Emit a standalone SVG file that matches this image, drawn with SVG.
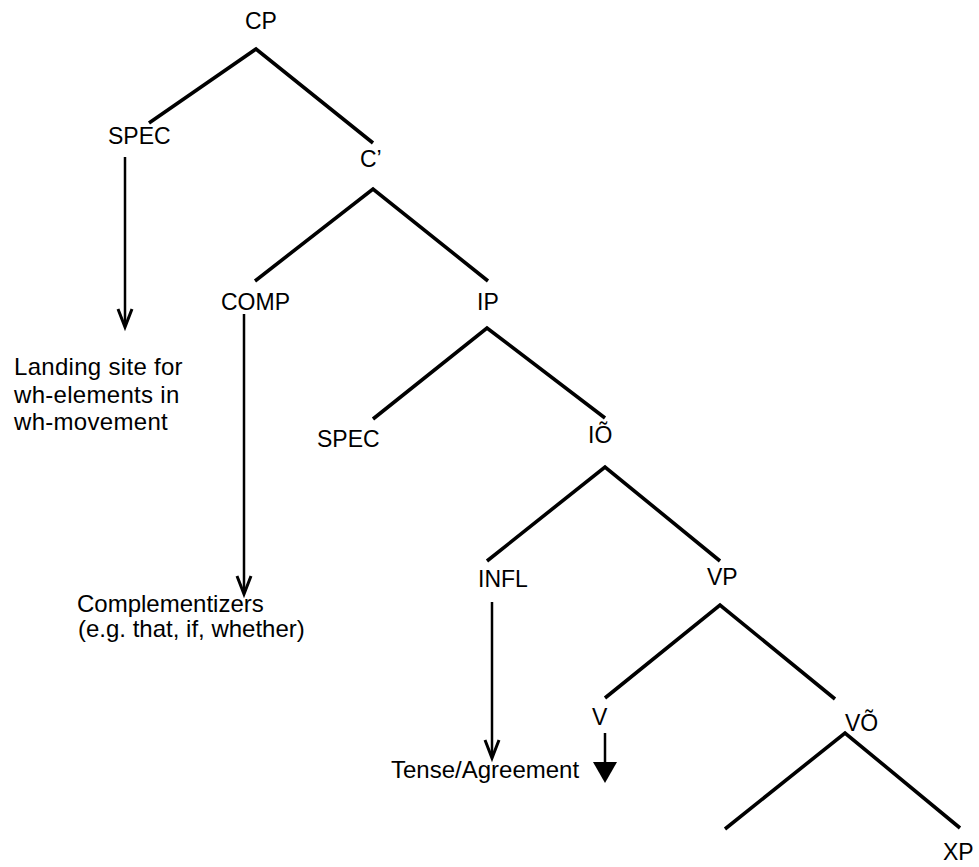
<svg xmlns="http://www.w3.org/2000/svg" width="979" height="867" viewBox="0 0 979 867">
  <style>
    text { font-family: "Liberation Sans", Arial, Helvetica, sans-serif; font-size: 23px; fill: #000; }
    .note { font-size: 24px; }
    .branch { stroke: #000; stroke-width: 3.6; fill: none; stroke-linecap: butt; }
    .pointer { stroke: #000; stroke-width: 2.5; fill: none; }
    .head { stroke: #000; stroke-width: 3; fill: none; }
  </style>

  <!-- tree branches and pointers -->
  <g id="connectors">
    <path class="branch" d="M149,123 L256,49 L373,143"/>
    <path class="branch" d="M255,281 L373,189 L488,281"/>
    <path class="branch" d="M373,419 L487,328 L605,418"/>
    <path class="branch" d="M487,561 L605,467 L720,561"/>
    <path class="branch" d="M605,698 L720,605 L835,699"/>
    <path class="branch" d="M725,829 L845,733 L960,828"/>

    <!-- open-headed pointers -->
    <line class="pointer" x1="125" y1="157" x2="125" y2="326"/>
    <path class="head" d="M118,309 L125,327 L132,309"/>
    <line class="pointer" x1="244" y1="314" x2="244" y2="593"/>
    <path class="head" d="M237,576 L244,594 L251,576"/>
    <line class="pointer" x1="492" y1="602" x2="492" y2="757"/>
    <path class="head" d="M485,740 L492,758 L499,740"/>

    <!-- filled-headed pointer from V -->
    <line class="pointer" x1="605" y1="733" x2="605" y2="764"/>
    <polygon points="593,762 617,762 605,783" fill="#000"/>
  </g>

  <g id="node-cp"><text x="245" y="29">CP</text></g>
  <g id="node-spec-c"><text x="108" y="144">SPEC</text></g>
  <g id="node-cbar"><text x="360" y="167">C’</text></g>
  <g id="node-comp"><text x="221" y="310">COMP</text></g>
  <g id="node-ip"><text x="477" y="310">IP</text></g>
  <g id="node-spec-i"><text x="317" y="447">SPEC</text></g>
  <g id="node-ibar"><text x="588" y="443">IÕ</text></g>
  <g id="node-infl"><text x="478" y="587">INFL</text></g>
  <g id="node-vp"><text x="707" y="585">VP</text></g>
  <g id="node-v"><text x="592" y="725">V</text></g>
  <g id="node-vbar"><text x="845" y="731">VÕ</text></g>
  <g id="node-xp"><text x="943" y="860">XP</text></g>

  <g id="note-landing" class="note">
    <text class="note" x="14" y="375" letter-spacing="0.3">Landing site for</text>
    <text class="note" x="14" y="403" letter-spacing="0.3">wh-elements in</text>
    <text class="note" x="14" y="430" letter-spacing="0.3">wh-movement</text>
  </g>
  <g id="note-complementizers">
    <text class="note" x="77" y="612">Complementizers</text>
    <text class="note" x="78" y="637"> (e.g. that, if, whether)</text>
  </g>
  <g id="note-tense"><text class="note" x="391" y="778">Tense/Agreement</text></g>
</svg>
